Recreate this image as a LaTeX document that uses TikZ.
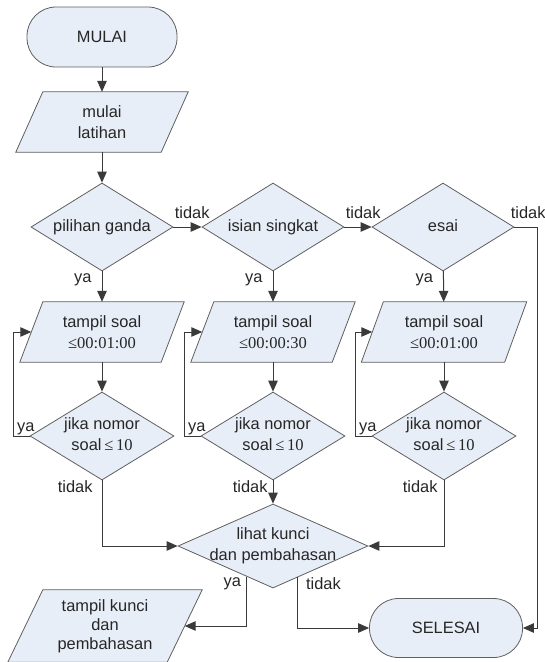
\documentclass[tikz,border=0pt]{standalone}
\usepackage{fontspec}
\setmainfont{Liberation Sans}
\newfontfamily\srf{Liberation Serif}
\usetikzlibrary{shapes.geometric,arrows.meta,backgrounds}
\definecolor{fillc}{HTML}{E8EEF8}
\definecolor{edgec}{HTML}{5F5F5F}
\definecolor{linec}{HTML}{3A3A3A}
\definecolor{txtc}{HTML}{262626}
\newcommand\dtx[1]{\makebox[0pt]{\raisebox{\dimexpr\depth/2-\height/2\relax}[0pt][0pt]{\begin{tabular}{@{}c@{}}#1\end{tabular}}}}
\newcommand\srs[1]{{\srf\fontsize{16.5}{21}\selectfont #1}}
\newcommand\paral[2]{\begin{scope}[on background layer]\draw[shp] ([xshift=#2/2]#1.north west) -- ([xshift=#2/2]#1.north east) -- ([xshift=-#2/2]#1.south east) -- ([xshift=-#2/2]#1.south west) -- cycle;\end{scope}}
\tikzset{
 shp/.style={draw=edgec, fill=fillc, line width=0.8pt},
 dia/.style={diamond, shp, inner sep=0pt, minimum width=142pt, minimum height=88pt},
 pbox/.style={rectangle, inner sep=0pt, align=center, minimum height=60pt},
 term/.style={rectangle, rounded corners=29pt, shp, minimum width=150pt, minimum height=60pt, inner sep=0pt},
 arr/.style={draw=linec, line width=1pt, -{Triangle[length=11pt,width=9.5pt]}},
 lbl/.style={inner sep=0pt, text=txtc},
}
\begin{document}
\begin{tikzpicture}[x=1pt,y=-1pt,font=\fontsize{16.4}{21}\selectfont, text=txtc]
\useasboundingbox (0,0) rectangle (545,662);
% top
\node[term] (mulai) at (102,37) {MULAI};
\node[pbox, minimum width=145pt] (ml) at (102,122) {mulai\\latihan};
\paral{ml}{27}
% decisions row
\node[dia] (pg) at (102,227) {\dtx{pilihan ganda}};
\node[dia] (is) at (273,227) {\dtx{isian singkat}};
\node[dia] (es) at (443,227) {\dtx{esai}};
% tampil soal
\node[pbox, minimum width=141pt] (ts1) at (102,332) {tampil soal\\\srs{≤00:01:00}};
\paral{ts1}{23}
\node[pbox, minimum width=141pt] (ts2) at (273,332) {tampil soal\\\srs{≤00:00:30}};
\paral{ts2}{23}
\node[pbox, minimum width=143pt] (ts3) at (444,332) {tampil soal\\\srs{≤00:01:00}};
\paral{ts3}{22}
% jika nomor
\node[dia, minimum width=144pt] (jk1) at (102,436) {\dtx{jika nomor\\soal\,\srs{≤\,10}}};
\node[dia, minimum width=144pt] (jk2) at (273,436) {\dtx{jika nomor\\soal\,\srs{≤\,10}}};
\node[dia, minimum width=144pt] (jk3) at (444,436) {\dtx{jika nomor\\soal\,\srs{≤\,10}}};
% lihat kunci
\node[dia, minimum width=190pt, minimum height=84pt] (lk) at (273,546) {\dtx{lihat kunci\\dan pembahasan}};
% bottom
\node[pbox, minimum width=159pt, minimum height=72pt] (tk) at (105,626) {tampil kunci\\[-2pt]dan\\[-2pt]pembahasan};
\paral{tk}{35}
\node[term, minimum width=153pt, minimum height=59pt] (sel) at (446,628) {SELESAI};
\coordinate (rx) at (537,227);
% connectors
\draw[arr] (mulai) -- (ml);
\draw[arr] (ml) -- (pg);
\draw[arr] (pg) -- node[lbl, pos=0, anchor=base west, xshift=1pt, yshift=9pt] {tidak} (is);
\draw[arr] (is) -- node[lbl, pos=0, anchor=base west, xshift=1pt, yshift=9pt] {tidak} (es);
\draw[arr] (es.east) -- node[lbl, pos=0, anchor=base west, xshift=-4pt, yshift=9pt] {tidak} (rx) |- (sel.east);
\draw[arr] (pg) -- node[lbl, pos=0, anchor=base east, xshift=-10pt, yshift=-11pt] {ya} (ts1);
\draw[arr] (is) -- node[lbl, pos=0, anchor=base east, xshift=-10pt, yshift=-11pt] {ya} (ts2);
\draw[arr] (es) -- node[lbl, pos=0, anchor=base east, xshift=-10pt, yshift=-11pt] {ya} (ts3);
\draw[arr] (ts1) -- (jk1);
\draw[arr] (ts2) -- (jk2);
\draw[arr] (ts3) -- (jk3);
\draw[arr] (jk1.west) -- node[lbl, pos=0, anchor=base west, xshift=-13pt, yshift=5pt] {ya} ++(-16,0) |- (ts1.west);
\draw[arr] (jk2.west) -- node[lbl, pos=0, anchor=base west, xshift=-13pt, yshift=5pt] {ya} ++(-16,0) |- (ts2.west);
\draw[arr] (jk3.west) -- node[lbl, pos=0, anchor=base west, xshift=-13pt, yshift=5pt] {ya} ++(-16,0) |- (ts3.west);
\draw[arr] (jk1.south) -- node[lbl, pos=0, anchor=base east, xshift=-9pt, yshift=-12pt] {tidak} (jk1.south |- lk.west) -- (lk.west);
\draw[arr] (jk2.south) -- node[lbl, pos=0, anchor=base east, xshift=-5pt, yshift=-12pt] {tidak} (lk.north);
\draw[arr] (jk3.south) -- node[lbl, pos=0, anchor=base east, xshift=-6pt, yshift=-12pt] {tidak} (jk3.south |- lk.east) -- (lk.east);
\draw[arr] (lk.229.5) -- node[lbl, pos=0, anchor=base east, xshift=-5pt, yshift=-9.5pt] {ya} (lk.229.5 |- tk.east) -- (tk.east);
\draw[arr] (lk.308.9) -- node[lbl, pos=0, anchor=base west, xshift=8pt, yshift=-12pt] {tidak} (lk.308.9 |- sel.west) -- (sel.west);
\end{tikzpicture}
\end{document}
